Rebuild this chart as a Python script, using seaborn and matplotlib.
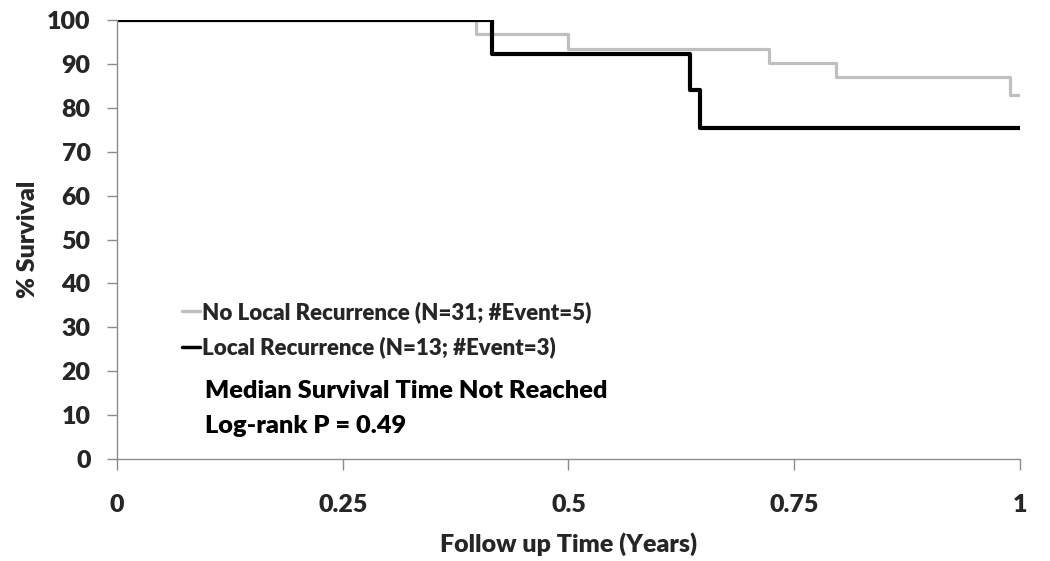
import matplotlib
matplotlib.use("Agg")
import matplotlib.pyplot as plt
from matplotlib import font_manager as fm
import seaborn as sns
import pandas as pd

# Data
no_lr_time = [0.0, 0.398, 0.500, 0.722, 0.796, 0.989, 1.0]
no_lr_surv = [100.0, 96.8, 93.5, 90.3, 87.1, 82.9, 82.9]
lr_time = [0.0, 0.415, 0.635, 0.646, 1.0]
lr_surv = [100.0, 92.3, 84.2, 75.5, 75.5]
labels = ["No Local Recurrence (N=31; #Event=5)", "Local Recurrence (N=13; #Event=3)"]
x_ticks = [0, 0.25, 0.5, 0.75, 1]
x_tick_labels = ["0", "0.25", "0.5", "0.75", "1"]
y_ticks = list(range(0, 101, 10))

sns.set_theme(style="white")

family = "DejaVu Sans"
for cand in ["Lato", "Open Sans", "Noto Sans", "Roboto", "Liberation Sans"]:
    try:
        path = fm.findfont(fm.FontProperties(family=cand, weight="bold"),
                           fallback_to_default=False)
        if "bold" in path.lower() or "black" in path.lower():
            family = cand
            break
    except Exception:
        pass

W = "heavy"
plt.rcParams['font.family'] = [family, 'DejaVu Sans']
plt.rcParams['font.weight'] = W

fig = plt.figure(figsize=(10.5, 5.61), dpi=100)
ax = fig.add_axes([0.1114, 0.182, 0.8600, 0.782])

df_no = pd.DataFrame({"t": no_lr_time, "s": no_lr_surv})
df_lr = pd.DataFrame({"t": lr_time, "s": lr_surv})
sns.lineplot(data=df_no, x="t", y="s", ax=ax, color="#BFBFBF", linewidth=2.3,
             drawstyle="steps-post", estimator=None, label=labels[0])
sns.lineplot(data=df_lr, x="t", y="s", ax=ax, color="#000000", linewidth=3.0,
             drawstyle="steps-post", estimator=None, label=labels[1])

ax.set_xlim(0, 1)
ax.set_ylim(0, 100)
ax.set_xticks(x_ticks)
ax.set_xticklabels(x_tick_labels)
ax.set_yticks(y_ticks)
for s in ["top", "right"]:
    ax.spines[s].set_visible(False)
for s in ["left", "bottom"]:
    ax.spines[s].set_color("#8C8C8C")
    ax.spines[s].set_linewidth(1.0)
ax.tick_params(axis="y", which="major", direction="out", length=7, width=1.0,
               color="#8C8C8C", labelsize=18, pad=12, left=True)
ax.tick_params(axis="x", which="major", direction="out", length=8, width=1.0,
               color="#8C8C8C", labelsize=18, pad=17.5, bottom=True)
for lab in ax.get_xticklabels() + ax.get_yticklabels():
    lab.set_fontweight(W)

ax.set_xlabel("Follow up Time (Years)", fontsize=18, fontweight=W, labelpad=11.5)
ax.set_ylabel("% Survival", fontsize=18, fontweight=W, labelpad=6)

leg_prop = fm.FontProperties(family=[family, "DejaVu Sans"], weight=W, size=16)
leg = ax.legend(loc="upper left", bbox_to_anchor=(0.05, 0.405), frameon=False,
                handlelength=0.8, handletextpad=0.1, labelspacing=0.6,
                prop=leg_prop)
for h in leg.get_lines():
    h.set_linewidth(2.5)

ax.text(0.097, 0.155, "Median Survival Time Not Reached", transform=ax.transAxes,
        fontsize=18.3, fontweight=W, ha="left", va="center", color="black")
ax.text(0.097, 0.076, "Log-rank P = 0.49", transform=ax.transAxes,
        fontsize=18.3, fontweight=W, ha="left", va="center", color="black")

fig.savefig("out.png", dpi=100)
